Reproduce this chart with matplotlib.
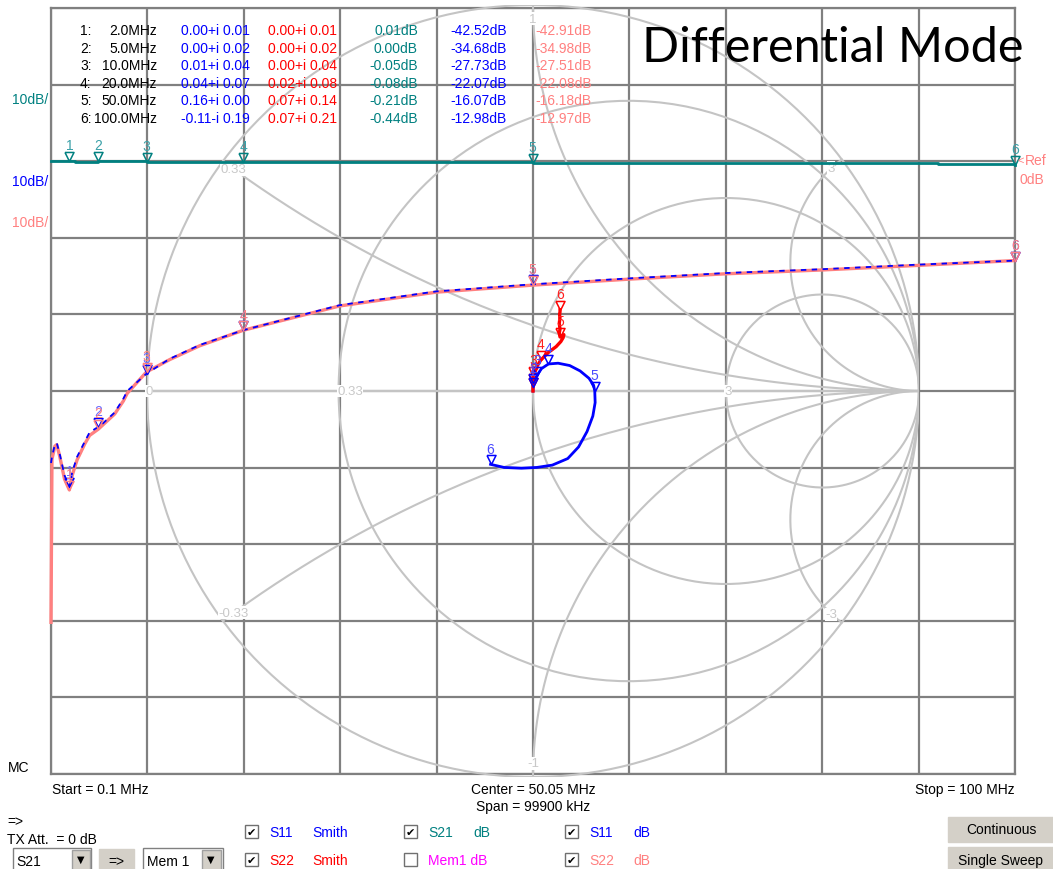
import numpy as np
import matplotlib
matplotlib.use("Agg")
import matplotlib.pyplot as plt
from matplotlib.patches import Rectangle
from matplotlib.path import Path

plt.rcParams['font.family'] = ['Liberation Sans', 'DejaVu Sans']

marker_freq = [2.0, 5.0, 10.0, 20.0, 50.0, 100.0]
s11_gamma_re = [0.00, 0.00, 0.01, 0.04, 0.16, -0.11]
s11_gamma_im = [0.01, 0.02, 0.04, 0.07, 0.00, -0.19]
s22_gamma_re = [0.00, 0.00, 0.00, 0.02, 0.07, 0.07]
s22_gamma_im = [0.01, 0.02, 0.04, 0.08, 0.14, 0.21]
s21_mk = [0.01, 0.00, -0.05, -0.08, -0.21, -0.44]
s11_mk = [-42.52, -34.68, -27.73, -22.07, -16.07, -12.98]
s22_mk = [-42.91, -34.98, -27.51, -22.08, -16.18, -12.97]

# dB traces
f_db = [0.1, 0.2, 0.5, 0.7, 1.0, 1.5, 2.0, 2.3, 2.8, 3.6, 4.1, 5.0, 5.5, 6.7,
        7.6, 8.0, 10.0, 12.4, 15.5, 20.0, 30.0, 40.0, 50.0, 60.0, 70.0, 80.0,
        90.0, 100.0]
s22_db = [-60.2, -38.9, -37.2, -37.0, -38.5, -41.5, -42.91, -41.0, -39.0, -36.9,
          -35.8, -34.98, -34.4, -33.0, -31.3, -30.3, -27.51, -25.9, -24.1, -22.08,
          -18.9, -17.1, -16.18, -15.4, -14.7, -14.2, -13.6, -12.97]
s11_db = [-39.4, -38.6, -37.0, -36.8, -38.2, -41.0, -42.52, -40.6, -38.6, -36.6,
          -35.4, -34.68, -34.2, -32.8, -31.0, -30.0, -27.73, -25.8, -24.0, -22.07,
          -18.8, -17.0, -16.07, -15.3, -14.6, -14.1, -13.5, -12.98]
f_s21 = [0.1, 2.0, 2.6, 5.0, 10.0, 20.0, 30.0, 40.0, 48.0, 50.0, 70.0, 90.0, 92.0, 100.0]
s21_db = [0.0, 0.01, -0.1, 0.0, -0.05, -0.08, -0.1, -0.1, -0.15, -0.21, -0.25, -0.28, -0.35, -0.44]

# Smith traces (reflection coefficient)
f_sm = [0.1, 2, 5, 10, 15, 20, 25, 30, 35, 40, 45, 50, 55, 60, 65, 70, 75, 80, 85, 90, 95, 100]
s11_re = [0.0, 0.0, 0.0, 0.01, 0.022, 0.04, 0.065, 0.095, 0.122, 0.145, 0.157, 0.16, 0.161,
          0.155, 0.14, 0.118, 0.09, 0.05, 0.01, -0.03, -0.075, -0.11]
s11_im = [0.0, 0.01, 0.02, 0.04, 0.058, 0.07, 0.072, 0.066, 0.052, 0.033, 0.015, 0.0, -0.03,
          -0.065, -0.105, -0.145, -0.175, -0.192, -0.198, -0.2, -0.198, -0.19]
s22_re = [0.0, 0.0, 0.0, 0.0, 0.008, 0.02, 0.04, 0.06, 0.072, 0.078, 0.08, 0.07, 0.068,
          0.07, 0.069, 0.068, 0.069, 0.07, 0.069, 0.069, 0.07, 0.07]
s22_im = [0.0, 0.01, 0.02, 0.04, 0.06, 0.08, 0.1, 0.115, 0.128, 0.138, 0.146, 0.14, 0.15,
          0.16, 0.168, 0.175, 0.183, 0.19, 0.195, 0.2, 0.205, 0.21]

smith_r = [0.33, 1, 3]
smith_x = [0.33, 1, 3]

W, H = 1053, 870
GRID = '#808080'
SMITH = '#c4c4c4'
TEAL = '#008080'
PINK = '#ff8080'

fig = plt.figure(figsize=(W / 100, H / 100), dpi=100)
fig.patch.set_facecolor('white')


def fp(x, y):
    return x / W, 1 - y / H


def ftext(x, y, s, **kw):
    kw.setdefault('va', 'center')
    kw.setdefault('fontsize', 10)
    fig.text(x / W, 1 - y / H, s, **kw)


def box(x0, y0, x1, y1, fc, ec='#808080'):
    fig.add_artist(Rectangle(fp(x0, y1), (x1 - x0) / W, (y1 - y0) / H,
                             transform=fig.transFigure, facecolor=fc, edgecolor=ec, lw=1))


db_rect = [51 / W, 1 - 775 / H, 964 / W, 766 / H]
smith_rect = [147 / W, 1 - 778 / H, 772 / W, 772 / H]

# grid
ax_grid = fig.add_axes(db_rect)
ax_grid.set_xlim(0.1, 100)
ax_grid.set_ylim(-80, 20)
ax_grid.set_xticks(np.linspace(0.1, 100, 11))
ax_grid.set_yticks(np.arange(-80, 21, 10))
ax_grid.tick_params(length=0, labelbottom=False, labelleft=False)
ax_grid.grid(True, color=GRID, lw=1.6)
for sp in ax_grid.spines.values():
    sp.set_color(GRID)
    sp.set_linewidth(1.6)

# smith chart
ax_sm = fig.add_axes(smith_rect, facecolor='none')
ax_sm.set_xlim(-1, 1)
ax_sm.set_ylim(-1, 1)
ax_sm.axis('off')


def gamma(z):
    return (z - 1) / (z + 1)


th = np.linspace(0, 2 * np.pi, 400)
ax_sm.plot(np.cos(th), np.sin(th), color=SMITH, lw=1.5)
ax_sm.plot([-1, 1], [0, 0], color=SMITH, lw=1.5)
xs = np.concatenate([-np.logspace(3, -3, 300), [0], np.logspace(-3, 3, 300)])
for r in smith_r:
    g = gamma(r + 1j * xs)
    ax_sm.plot(g.real, g.imag, color=SMITH, lw=1.5)
rs = np.concatenate([[0], np.logspace(-3, 3, 400)])
for x in smith_x:
    for sx in (x, -x):
        g = gamma(rs + 1j * sx)
        ax_sm.plot(g.real, g.imag, color=SMITH, lw=1.5)
        p = gamma(1j * sx) * 0.965
        ax_sm.text(p.real, p.imag, f'{sx:g}', color='#c8c8c8', fontsize=9.5, ha='center',
                   va='center', bbox=dict(facecolor='white', edgecolor='none', pad=0.3))
for r in [0] + [v for v in smith_r if v != 1]:
    g = gamma(r)
    ax_sm.annotate(f'{r:g}', (g, 0), xytext=(-1, 0), textcoords='offset points', color='#c8c8c8',
                   fontsize=9.5, ha='left', va='center',
                   bbox=dict(facecolor='white', edgecolor='none', pad=0.3))

tri = Path([(-0.5, 1.0), (0.5, 1.0), (0.0, 0.0), (-0.5, 1.0)])


def markers(ax, xs_, ys_, col, tcol):
    ax.plot(xs_, ys_, ls='none', marker=tri, ms=13, mfc='none', mec=col, mew=1.1, clip_on=False)
    for i, (a, b) in enumerate(zip(xs_, ys_)):
        ax.annotate(str(i + 1), (a, b), xytext=(0, 6.3), textcoords='offset points', color=tcol,
                    fontsize=10, ha='center', va='bottom', annotation_clip=False)


ax_sm.plot(s11_re, s11_im, color='#0000ff', lw=2.0)
ax_sm.plot(s22_re, s22_im, color='#ff0000', lw=2.4)
markers(ax_sm, s22_gamma_re, s22_gamma_im, '#ff0000', '#ff2020')
markers(ax_sm, s11_gamma_re, s11_gamma_im, '#0000ff', '#4a4aff')

# dB traces
ax_tr = fig.add_axes(db_rect, facecolor='none')
ax_tr.set_xlim(0.1, 100)
ax_tr.set_ylim(-80, 20)
ax_tr.axis('off')
ax_tr.plot(f_s21, s21_db, color=TEAL, lw=2.0, drawstyle='steps-post', clip_on=False)
ax_tr.plot(f_db, s22_db, color=PINK, lw=2.4, clip_on=False)
ax_tr.plot(f_db, s11_db, color='#0000ff', lw=1.3, dashes=(3, 3), clip_on=False)
markers(ax_tr, marker_freq, s21_mk, TEAL, '#3aa0a8')
markers(ax_tr, marker_freq, s11_mk, '#0000ff', '#6a6aff')
markers(ax_tr, marker_freq, s22_mk, PINK, PINK)

# marker table
row_y = [31 + 17.6 * i for i in range(6)]


def cplx(re, im):
    sign = '+' if im >= 0 else '-'
    return f'{re:.2f}{sign}i {abs(im):.2f}'


for i in range(6):
    y = row_y[i]
    ftext(80, y, f'{i + 1}:', ha='left', color='black')
    ftext(157, y, f'{marker_freq[i]:.1f}MHz', ha='right', color='black')
    ftext(250, y, cplx(s11_gamma_re[i], s11_gamma_im[i]), ha='right', color='#0000ff')
    ftext(337, y, cplx(s22_gamma_re[i], s22_gamma_im[i]), ha='right', color='#ff0000')
    ftext(418, y, f'{s21_mk[i]:.2f}dB', ha='right', color=TEAL)
    ftext(507, y, f'{s11_mk[i]:.2f}dB', ha='right', color='#0000ff')
    ftext(592, y, f'{s22_mk[i]:.2f}dB', ha='right', color=PINK)

ftext(833, 48, 'Differential Mode', ha='center', color='black', fontsize=35, family='Lato')

# scale labels
ftext(48, 100, '10dB/', ha='right', color=TEAL)
ftext(48, 182, '10dB/', ha='right', color='#0000ff')
ftext(48, 223, '10dB/', ha='right', color=PINK)
ftext(1017, 161, '<', ha='left', color=PINK, fontsize=8)
ftext(1025, 161, 'Ref', ha='left', color=PINK)
ftext(1020, 180, '0dB', ha='left', color=PINK)
ftext(8, 768, 'MC', ha='left', color='black')

ftext(52, 790, 'Start = 0.1 MHz', ha='left')
ftext(533, 790, 'Center = 50.05 MHz', ha='center')
ftext(533, 807, 'Span = 99900 kHz', ha='center')
ftext(1015, 790, 'Stop = 100 MHz', ha='right')
ftext(7, 822, '=>', ha='left')
ftext(7, 840, 'TX Att.  = 0 dB', ha='left')

# controls
box(13, 849, 91, 872, 'white')
box(72, 851, 90, 872, '#d4d0c8', '#a0a0a0')
ftext(16, 862, 'S21', ha='left')
ftext(81, 860, '▼', ha='center', fontsize=7, family='DejaVu Sans')
box(99, 850, 134, 872, '#d4d0c8', '#d4d0c8')
ftext(116, 862, '=>', ha='center')
box(143, 849, 223, 872, 'white')
box(202, 851, 221, 872, '#d4d0c8', '#a0a0a0')
ftext(147, 862, 'Mem 1', ha='left')
ftext(211, 860, '▼', ha='center', fontsize=7, family='DejaVu Sans')

checks = [(245, 833, True, [('S11', 269), ('Smith', 312)], '#0000ff'),
          (245, 861, True, [('S22', 269), ('Smith', 312)], '#ff0000'),
          (404, 833, True, [('S21', 428), ('dB', 473)], TEAL),
          (404, 861, False, [('Mem1 dB', 428)], '#ff00ff'),
          (565, 833, True, [('S11', 589), ('dB', 633)], '#0000ff'),
          (565, 861, True, [('S22', 589), ('dB', 633)], PINK)]
for cx, cy, on, labels, col in checks:
    box(cx, cy - 7, cx + 13, cy + 6, 'white', '#707070')
    if on:
        ftext(cx + 6.5, cy, '✔', ha='center', fontsize=8, family='DejaVu Sans')
    for s, lx in labels:
        ftext(lx, cy, s, ha='left', color=col)

box(948, 818, 1055, 843, '#d4d0c8', '#d4d0c8')
ftext(1001, 830, 'Continuous', ha='center')
box(948, 848, 1055, 873, '#d4d0c8', '#d4d0c8')
ftext(1001, 861, 'Single Sweep', ha='center')

fig.savefig('out.png', dpi=100)
